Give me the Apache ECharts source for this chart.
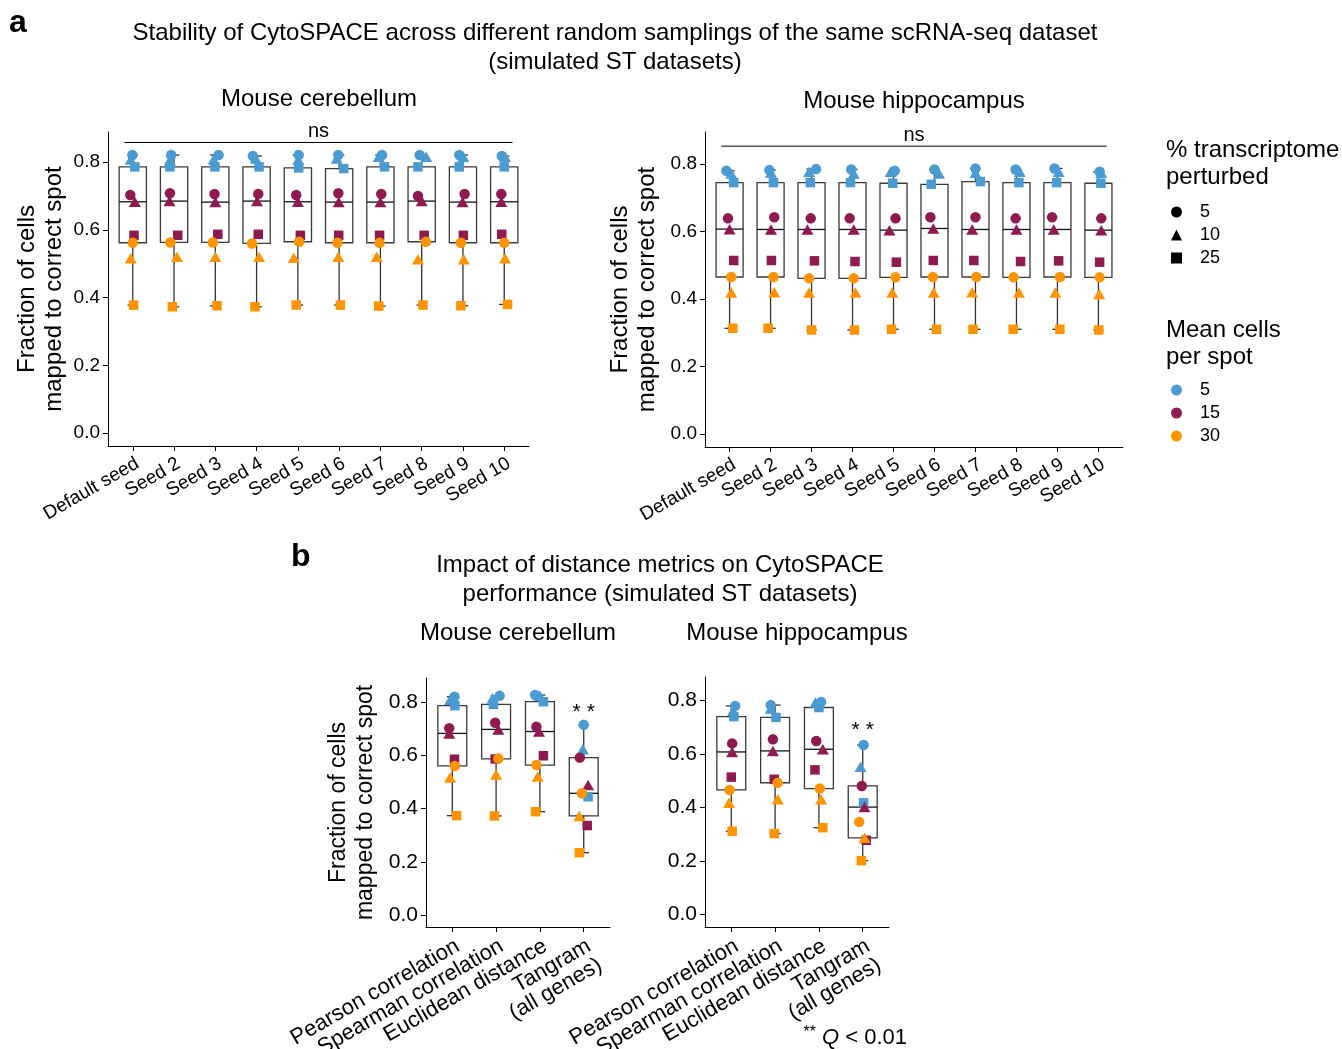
<!DOCTYPE html>
<html>
<head>
<meta charset="utf-8">
<script src="https://cdn.jsdelivr.net/npm/echarts@6/dist/echarts.min.js"></script>
<style>
html, body { margin: 0; padding: 0; background: #fff; }
#chart { width: 1342px; height: 1049px; }
</style>
</head>
<body>
<div id="chart"></div>
<script>
// categories
const seeds = ['Default seed', 'Seed 2', 'Seed 3', 'Seed 4', 'Seed 5', 'Seed 6', 'Seed 7', 'Seed 8', 'Seed 9', 'Seed 10'];
const metrics = ['Pearson correlation', 'Spearman correlation', 'Euclidean distance', 'Tangram\n(all genes)'];
const meanCells = ['5', '15', '30'];
const perturbed = ['5', '10', '25'];

// rows: mean cells 5 / 15 / 30, each with % perturbed 5 / 10 / 25
// panel a, mouse cerebellum, one value per seed
const cerSeedValues = [
    [0.821, 0.821, 0.821, 0.818, 0.821, 0.821, 0.821, 0.821, 0.821, 0.818],
    [0.808, 0.806, 0.808, 0.811, 0.808, 0.811, 0.816, 0.816, 0.816, 0.816],
    [0.786, 0.786, 0.786, 0.786, 0.783, 0.781, 0.786, 0.786, 0.786, 0.786],
    [0.703, 0.708, 0.706, 0.706, 0.703, 0.708, 0.706, 0.700, 0.706, 0.706],
    [0.683, 0.685, 0.682, 0.685, 0.683, 0.682, 0.682, 0.685, 0.682, 0.683],
    [0.584, 0.584, 0.587, 0.587, 0.584, 0.584, 0.584, 0.584, 0.584, 0.587],
    [0.562, 0.563, 0.563, 0.560, 0.565, 0.562, 0.562, 0.565, 0.562, 0.562],
    [0.516, 0.521, 0.521, 0.521, 0.518, 0.521, 0.521, 0.513, 0.513, 0.516],
    [0.378, 0.373, 0.376, 0.373, 0.378, 0.378, 0.375, 0.378, 0.376, 0.380]
];
// horizontal jitter of each point (category units)
const cerSeedJitter = [
    [-0.01, -0.07, 0.08, -0.09, 0.02, -0.02, 0.04, -0.05, -0.09, -0.06],
    [-0.05, -0.10, -0.04, -0.02, 0.01, -0.06, -0.04, 0.11, 0.01, 0.02],
    [0.05, -0.10, -0.01, 0.06, 0.02, 0.11, 0.10, -0.09, -0.09, 0],
    [-0.06, -0.10, -0.02, 0.04, -0.04, -0.02, 0.02, -0.09, 0.04, -0.07],
    [0.05, -0.11, 0, 0.01, 0, -0.01, 0, 0, -0.01, -0.07],
    [0.03, 0.09, 0.06, 0.04, 0.06, -0.01, -0.02, 0.06, 0.01, -0.06],
    [0, -0.09, -0.06, -0.11, 0.03, -0.04, -0.02, 0.10, -0.05, 0],
    [-0.05, 0.07, 0, 0.06, -0.10, -0.02, -0.09, -0.09, 0.02, 0.02],
    [0.02, -0.04, 0.04, -0.04, -0.04, 0.03, -0.04, 0.03, -0.05, 0.08]
];

// panel a, mouse hippocampus
const hipSeedValues = [
    [0.780, 0.782, 0.785, 0.784, 0.780, 0.784, 0.787, 0.784, 0.787, 0.777],
    [0.772, 0.775, 0.777, 0.772, 0.777, 0.772, 0.774, 0.777, 0.777, 0.774],
    [0.745, 0.745, 0.745, 0.745, 0.743, 0.740, 0.748, 0.745, 0.745, 0.743],
    [0.639, 0.642, 0.639, 0.639, 0.639, 0.642, 0.642, 0.639, 0.642, 0.639],
    [0.607, 0.606, 0.606, 0.606, 0.604, 0.609, 0.606, 0.606, 0.606, 0.604],
    [0.514, 0.514, 0.513, 0.511, 0.509, 0.514, 0.514, 0.511, 0.513, 0.509],
    [0.465, 0.465, 0.461, 0.461, 0.464, 0.465, 0.465, 0.464, 0.465, 0.464],
    [0.419, 0.420, 0.419, 0.419, 0.419, 0.419, 0.420, 0.419, 0.419, 0.415],
    [0.313, 0.313, 0.308, 0.308, 0.310, 0.310, 0.310, 0.310, 0.310, 0.308]
];
const hipSeedJitter = [
    [-0.08, -0.03, 0.11, -0.03, 0.03, 0, 0, -0.02, -0.07, 0.03],
    [0.04, 0.01, -0.06, 0.03, -0.07, 0.11, 0, 0.08, 0.03, 0.07],
    [0.10, 0.07, -0.03, -0.05, -0.02, -0.08, 0.12, 0.06, -0.02, 0.06],
    [-0.04, 0.09, -0.02, -0.07, 0.05, -0.10, 0, -0.02, -0.13, 0.07],
    [0, 0.01, -0.10, 0.03, -0.10, -0.03, -0.08, 0, -0.09, 0.07],
    [0.10, 0.02, 0.07, 0.06, 0.07, -0.03, -0.04, 0.10, 0.03, 0.03],
    [0.04, 0.07, -0.06, 0.03, 0.05, -0.04, 0.02, -0.07, 0.06, 0.03],
    [0.04, 0.09, -0.06, 0.07, -0.03, -0.02, -0.08, 0.06, -0.05, 0.02],
    [0.08, -0.06, 0, 0.05, -0.05, 0.05, -0.06, -0.08, 0.06, 0.01]
];

// panel b, one value per distance metric
const cerMetricValues = [
    [0.820, 0.823, 0.826, 0.714],
    [0.808, 0.814, 0.823, 0.622],
    [0.786, 0.791, 0.801, 0.444],
    [0.701, 0.722, 0.707, 0.591],
    [0.682, 0.697, 0.689, 0.488],
    [0.585, 0.586, 0.598, 0.336],
    [0.560, 0.588, 0.563, 0.457],
    [0.516, 0.528, 0.520, 0.372],
    [0.373, 0.372, 0.388, 0.234]
];
const cerMetricJitter = [
    [0.05, 0.08, -0.11, 0],
    [-0.05, -0.08, 0, -0.02],
    [0.06, -0.06, 0.08, 0.10],
    [-0.07, -0.02, -0.08, -0.09],
    [-0.07, 0.05, -0.02, 0.10],
    [0.05, -0.02, 0.08, 0.08],
    [0.06, 0.05, -0.08, -0.04],
    [-0.05, 0, -0.05, -0.10],
    [0.10, -0.04, -0.10, -0.10]
];
const hipMetricValues = [
    [0.780, 0.783, 0.795, 0.634],
    [0.762, 0.770, 0.793, 0.553],
    [0.740, 0.737, 0.774, 0.418],
    [0.640, 0.655, 0.649, 0.481],
    [0.608, 0.612, 0.618, 0.402],
    [0.514, 0.506, 0.541, 0.278],
    [0.466, 0.493, 0.471, 0.346],
    [0.418, 0.431, 0.431, 0.287],
    [0.312, 0.303, 0.325, 0.202]
];
const hipMetricJitter = [
    [0.09, -0.10, 0.05, 0.02],
    [0.04, -0.10, -0.08, -0.05],
    [0.06, 0.02, 0, 0.02],
    [0.02, -0.05, -0.06, -0.02],
    [0.02, -0.05, 0.09, 0.04],
    [0, -0.02, -0.09, 0.08],
    [-0.04, 0.06, 0.02, -0.08],
    [-0.05, 0.06, 0.05, 0.04],
    [0.02, -0.02, 0.09, -0.03]
];

// significance marks: "ns" bracket heights (panel a), "**" heights over Tangram (panel b)
const nsBracketY = [0.858, 0.853];
const starY = [0.762, 0.688];
const yTicks = [0, 0.2, 0.4, 0.6, 0.8];

const fontFamily = "'Liberation Sans', Arial, Helvetica, sans-serif";
const colors = ['#4b9bd3', '#8e1a51', '#ff9300'];
const shapes = ['circle', 'triangle', 'rect'];
const shapeSizes = [10.5, [12, 10.5], 9.5];

// 分位数 (type 7, 跟 R 一样)
function quantile(sorted, p) {
    const h = (sorted.length - 1) * p;
    const lo = Math.floor(h);
    const hi = Math.min(lo + 1, sorted.length - 1);
    return sorted[lo] + (h - lo) * (sorted[hi] - sorted[lo]);
}

// 每个类别的箱线统计: [i, 下须, Q1, 中位数, Q3, 上须]
function boxStats(values) {
    const n = values[0].length;
    const out = [];
    for (let i = 0; i < n; i++) {
        const col = values.map(row => row[i]).sort((a, b) => a - b);
        const q1 = quantile(col, 0.25), med = quantile(col, 0.5), q3 = quantile(col, 0.75);
        const iqr = q3 - q1;
        const lowW = col.filter(v => v >= q1 - 1.5 * iqr)[0];
        const highW = col.filter(v => v <= q3 + 1.5 * iqr).pop();
        out.push([i, lowW, q1, med, q3, highW]);
    }
    return out;
}

function renderBox(params, api) {
    const x = api.value(0);
    const hw = 0.33, cap = 0.125;
    const low = api.coord([x, api.value(1)]);
    const q1 = api.coord([x, api.value(2)]);
    const q3 = api.coord([x, api.value(4)]);
    const high = api.coord([x, api.value(5)]);
    const tl = api.coord([x - hw, api.value(4)]);
    const br = api.coord([x + hw, api.value(2)]);
    const ml = api.coord([x - hw, api.value(3)]);
    const mr = api.coord([x + hw, api.value(3)]);
    const cl = api.coord([x - cap, api.value(1)])[0];
    const cr = api.coord([x + cap, api.value(1)])[0];
    const line = (x1, y1, x2, y2, c, w) => ({
        type: 'line', shape: { x1, y1, x2, y2 }, style: { stroke: c, lineWidth: w }
    });
    return {
        type: 'group',
        children: [
            line(low[0], low[1], q1[0], q1[1], '#333', 1.3),
            line(q3[0], q3[1], high[0], high[1], '#333', 1.3),
            line(cl, low[1], cr, low[1], '#333', 1.3),
            line(cl, high[1], cr, high[1], '#333', 1.3),
            {
                type: 'rect',
                shape: { x: tl[0], y: tl[1], width: br[0] - tl[0], height: br[1] - tl[1] },
                style: { fill: '#fff', stroke: '#3a3a3a', lineWidth: 1.3 }
            },
            line(ml[0], ml[1], mr[0], mr[1], '#111', 1.3)
        ]
    };
}

const grids = [
    { left: 108, top: 132, width: 421, height: 314 },
    { left: 705, top: 132, width: 418, height: 315 },
    { left: 426, top: 678, width: 184, height: 249 },
    { left: 705, top: 677, width: 184, height: 250 }
].map(g => Object.assign(g, { containLabel: false, outerBoundsMode: 'none' }));
const yRanges = [[-0.038, 0.889], [-0.039, 0.895], [-0.045, 0.890], [-0.046, 0.888]];
const yNameGaps = [40, 44, 47, null];
const yNameFont = [24, 24, 23, 23];
const tickFont = [19, 19, 21, 21];
const catFont = [19, 19, 22, 22];
// 标签分组放在不同的 x 轴上, 避免 echarts 把重叠的旋转标签藏掉
const seedLabelGroups = [[0, 1, 2, 3, 4, 5, 6, 7, 8, 9]];
const metricLabelGroups = [[0, 1, 2], [3]];
const plots = [
    { cats: seeds, values: cerSeedValues, jitter: cerSeedJitter, groups: seedLabelGroups },
    { cats: seeds, values: hipSeedValues, jitter: hipSeedJitter, groups: seedLabelGroups },
    { cats: metrics, values: cerMetricValues, jitter: cerMetricJitter, groups: metricLabelGroups },
    { cats: metrics, values: hipMetricValues, jitter: hipMetricJitter, groups: metricLabelGroups }
];

const xAxes = [], yAxes = [], series = [];

plots.forEach((p, g) => {
    const ticks = p.cats.map((_, i) => i);
    const xIndex = xAxes.length;
    p.groups.forEach((labels, k) => {
        xAxes.push({
            type: 'value', gridIndex: g, position: 'bottom', offset: 0,
            min: -0.6, max: p.cats.length - 0.4,
            axisLine: { show: k === 0, onZero: false, lineStyle: { color: '#000', width: 1 } },
            axisTick: { show: k === 0, customValues: ticks, length: 5, lineStyle: { color: '#000' } },
            axisLabel: {
                customValues: labels, rotate: 30, margin: 8, color: '#000',
                align: 'right', verticalAlign: 'top',
                showMinLabel: true, showMaxLabel: true,
                fontSize: catFont[g], fontFamily, lineHeight: catFont[g],
                formatter: v => p.cats[Math.round(v)]
            },
            splitLine: { show: false }
        });
    });
    yAxes.push({
        type: 'value', gridIndex: g, position: 'left', min: yRanges[g][0], max: yRanges[g][1],
        axisLine: { show: true, onZero: false, lineStyle: { color: '#000', width: 1 } },
        axisTick: { show: true, customValues: yTicks, length: 5, lineStyle: { color: '#000' } },
        axisLabel: {
            customValues: yTicks, margin: 8, color: '#000', fontSize: tickFont[g], fontFamily,
            showMinLabel: true, showMaxLabel: true,
            formatter: v => v.toFixed(1)
        },
        splitLine: { show: false },
        name: yNameGaps[g] ? 'Fraction of cells\nmapped to correct spot' : '',
        nameLocation: 'middle',
        nameGap: yNameGaps[g] || 0,
        nameTextStyle: { fontSize: yNameFont[g], lineHeight: 27, color: '#000', fontFamily }
    });
    p.xIndex = xIndex;

    series.push({
        type: 'custom', xAxisIndex: xIndex, yAxisIndex: g, z: 1, silent: true,
        renderItem: renderBox,
        encode: { x: 0, y: [1, 2, 3, 4, 5] },
        data: boxStats(p.values)
    });

    p.values.forEach((row, r) => {
        const m = Math.floor(r / 3), s = r % 3;
        series.push({
            type: 'scatter', xAxisIndex: xIndex, yAxisIndex: g, z: 3, silent: true,
            symbol: shapes[s], symbolSize: shapeSizes[s],
            itemStyle: { color: colors[m], opacity: 1 },
            data: row.map((v, i) => [i + p.jitter[r][i], v])
        });
    });
});

// "ns" brackets in panel a
nsBracketY.forEach((y, g) => {
    series.push({
        type: 'line', xAxisIndex: plots[g].xIndex, yAxisIndex: g, z: 4, silent: true,
        symbol: 'none', lineStyle: { color: '#000', width: 1 },
        data: [[-0.2, y], [seeds.length - 0.8, y]]
    });
    series.push({
        type: 'scatter', xAxisIndex: plots[g].xIndex, yAxisIndex: g, z: 4, silent: true,
        symbolSize: 0, itemStyle: { opacity: 1 },
        label: { show: true, position: 'top', distance: 1, formatter: 'ns', fontSize: 20, color: '#000', fontFamily },
        data: [[(seeds.length - 1) / 2, y]]
    });
});

// "**" over Tangram in panel b
starY.forEach((y, k) => {
    series.push({
        type: 'scatter', xAxisIndex: plots[2 + k].xIndex, yAxisIndex: 2 + k, z: 4, silent: true,
        symbolSize: 0, itemStyle: { opacity: 1 },
        label: { show: true, position: 'inside', formatter: '* *', fontSize: 21, color: '#000', fontFamily },
        data: [[metrics.length - 1, y]]
    });
});

// legend-only series
const legendNames = {
    pct5: perturbed[0], pct10: perturbed[1], pct25: perturbed[2],
    mc5: meanCells[0], mc15: meanCells[1], mc30: meanCells[2]
};
['pct5', 'pct10', 'pct25'].forEach((n, i) => {
    series.push({ type: 'scatter', name: n, symbol: shapes[i], itemStyle: { color: '#000', opacity: 1 }, data: [] });
});
['mc5', 'mc15', 'mc30'].forEach((n, i) => {
    series.push({ type: 'scatter', name: n, symbol: 'circle', itemStyle: { color: colors[i], opacity: 1 }, data: [] });
});

const legendText = { fontSize: 18, lineHeight: 18, color: '#000', fontFamily, padding: [0, 0, 0, 13] };

const titleText = (text, left, top, extra) => Object.assign({
    text, left, top, padding: 0,
    textStyle: { fontSize: 24, lineHeight: 29, fontWeight: 'normal', color: '#000', fontFamily }
}, extra || {});
const boldLetter = { textStyle: { fontSize: 32, lineHeight: 36, fontWeight: 'bold', color: '#000', fontFamily } };
const legendTitle = { textStyle: { fontSize: 24, lineHeight: 27, fontWeight: 'normal', color: '#000', fontFamily } };

const option = {
    animation: false,
    backgroundColor: '#fff',
    textStyle: { fontFamily },
    title: [
        titleText('a', 9, 5, boldLetter),
        titleText('Stability of CytoSPACE across different random samplings of the same scRNA-seq dataset\n(simulated ST datasets)', 615, 18.5, { textAlign: 'center' }),
        titleText('Mouse cerebellum', 319, 84.5, { textAlign: 'center' }),
        titleText('Mouse hippocampus', 914, 86.5, { textAlign: 'center' }),
        titleText('b', 291, 539, boldLetter),
        titleText('Impact of distance metrics on CytoSPACE\nperformance (simulated ST datasets)', 660, 550.5, { textAlign: 'center' }),
        titleText('Mouse cerebellum', 518, 618.5, { textAlign: 'center' }),
        titleText('Mouse hippocampus', 797, 618.5, { textAlign: 'center' }),
        titleText('% transcriptome\nperturbed', 1166, 137, legendTitle),
        titleText('Mean cells\nper spot', 1166, 317, legendTitle),
        titleText('{s|**} {q|Q} < 0.01', 907, 1025, {
            textAlign: 'right',
            textStyle: {
                fontSize: 22, lineHeight: 26, fontWeight: 'normal', color: '#000', fontFamily,
                rich: {
                    s: { fontSize: 16, color: '#000', fontFamily, verticalAlign: 'top' },
                    q: { fontSize: 22, fontStyle: 'italic', color: '#000', fontFamily }
                }
            }
        })
    ],
    legend: [
        {
            selectedMode: false, orient: 'vertical', left: 1171, top: 203, padding: 0,
            itemWidth: 11, itemHeight: 11, itemGap: 5,
            data: [{ name: 'pct5', icon: 'circle' }, { name: 'pct10', icon: 'triangle' }, { name: 'pct25', icon: 'rect' }],
            formatter: n => legendNames[n], textStyle: legendText
        },
        {
            selectedMode: false, orient: 'vertical', left: 1171, top: 381, padding: 0,
            itemWidth: 11, itemHeight: 11, itemGap: 5,
            data: [{ name: 'mc5', icon: 'circle' }, { name: 'mc15', icon: 'circle' }, { name: 'mc30', icon: 'circle' }],
            formatter: n => legendNames[n], textStyle: legendText
        }
    ],
    grid: grids,
    xAxis: xAxes,
    yAxis: yAxes,
    series
};

var chart = echarts.init(document.getElementById('chart'));
chart.setOption(option);
</script>
</body>
</html>
